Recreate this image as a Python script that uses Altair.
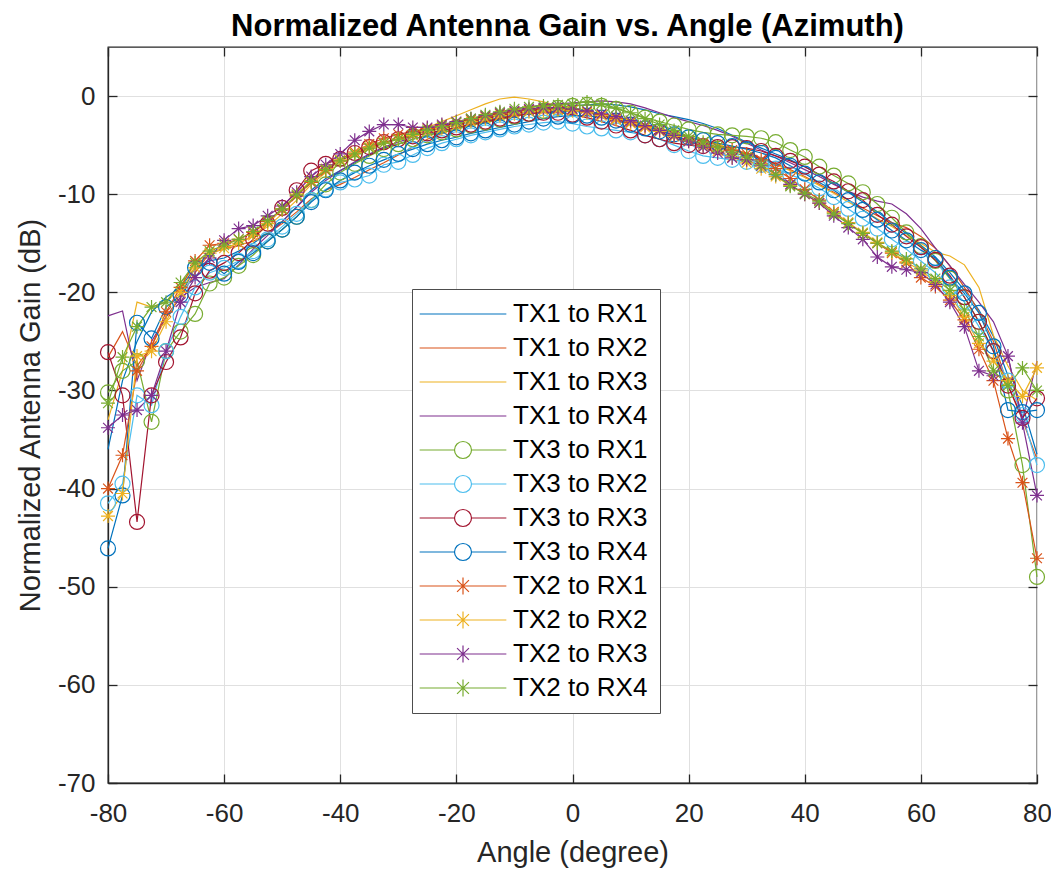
import altair as alt
import pandas as pd

angles = [-80, -77.5, -75, -72.5, -70, -67.5, -65, -62.5, -60, -57.5, -55, -52.5, -50,
          -47.5, -45, -42.5, -40, -37.5, -35, -32.5, -30, -27.5, -25, -22.5, -20, -17.5,
          -15, -12.5, -10, -7.5, -5, -2.5, 0, 2.5, 5, 7.5, 10, 12.5, 15,
          17.5, 20, 22.5, 25, 27.5, 30, 32.5, 35, 37.5, 40, 42.5, 45, 47.5,
          50, 52.5, 55, 57.5, 60, 62.5, 65, 67.5, 70, 72.5, 75, 77.5, 80]

series_names = ["TX1 to RX1", "TX1 to RX2", "TX1 to RX3", "TX1 to RX4",
                "TX3 to RX1", "TX3 to RX2", "TX3 to RX3", "TX3 to RX4",
                "TX2 to RX1", "TX2 to RX2", "TX2 to RX3", "TX2 to RX4"]
series_colors = ["#0072BD", "#D95319", "#EDB120", "#7E2F8E",
                 "#77AC30", "#4DBEEE", "#A2142F", "#0072BD",
                 "#D95319", "#EDB120", "#7E2F8E", "#77AC30"]
series_marker = ["none", "none", "none", "none",
                 "circle", "circle", "circle", "circle",
                 "star", "star", "star", "star"]

tx1_rx1 = [-36, -29, -25, -22, -20.5, -19.5, -17.5, -16.8, -16.5, -15.8, -15.0, -14.0, -12.8,
           -11.3, -9.6, -8.4, -7.6, -6.8, -6.0, -5.3, -4.9, -4.4, -4.0, -3.6, -3.2, -2.8,
           -2.5, -2.2, -1.9, -1.6, -1.3, -1.1, -1.0, -0.9, -0.8, -0.9, -1.1, -1.4, -1.8,
           -2.1, -2.4, -2.8, -3.3, -4.0, -4.7, -5.3, -5.9, -6.5, -7.2, -8.0, -8.9, -9.8,
           -10.8, -11.8, -12.9, -14.0, -15.2, -16.4, -18.0, -19.8, -21.8, -24.5, -28.5, -31.5, -36.5]
tx1_rx2 = [-26.6, -24.0, -27.5, -25.5, -22.5, -20.5, -18.0, -16.0, -15.6, -15.2, -14.8, -14.0, -13.0,
           -11.8, -10.5, -9.6, -9.0, -8.3, -7.5, -6.8, -6.0, -5.2, -4.4, -3.8, -3.3, -2.9,
           -2.6, -2.3, -2.0, -1.8, -1.6, -1.5, -1.5, -1.6, -1.8, -2.1, -2.5, -2.9, -3.3,
           -3.8, -4.2, -4.6, -5.0, -5.4, -5.8, -6.3, -6.9, -7.5, -8.2, -9.0, -9.8, -10.6,
           -11.4, -12.2, -12.9, -13.4, -14.3, -15.5, -17.3, -19.5, -22.0, -25.0, -29.5, -33.0, -37.0]
tx1_rx3 = [-33.0, -28.0, -21.0, -21.5, -21.0, -19.5, -17.0, -16.0, -15.5, -15.0, -14.3, -13.3, -12.0,
           -10.6, -9.0, -7.8, -6.9, -6.1, -5.4, -4.8, -4.3, -3.8, -3.2, -2.6, -2.0, -1.4,
           -0.8, -0.3, -0.1, -0.3, -0.6, -1.0, -1.3, -1.6, -1.9, -2.2, -2.5, -2.9, -3.3,
           -3.7, -4.1, -4.5, -4.9, -5.4, -5.9, -6.4, -7.0, -7.6, -8.3, -9.1, -9.9, -10.8,
           -11.6, -12.5, -13.3, -14.2, -15.0, -15.9, -16.3, -17.2, -19.5, -24.4, -27.5, -30.0, -31.0]
tx1_rx4 = [-22.4, -21.9, -29.0, -25.0, -22.5, -20.5, -19.5, -19.0, -18.6, -17.2, -15.6, -14.2, -12.8,
           -11.3, -9.8, -8.6, -7.6, -6.7, -5.9, -5.2, -4.7, -4.2, -3.7, -3.2, -2.8, -2.4,
           -2.0, -1.6, -1.3, -1.1, -0.9, -0.8, -0.7, -0.6, -0.5, -0.6, -0.8, -1.2, -1.7,
           -2.2, -2.6, -3.0, -3.5, -4.1, -4.8, -5.5, -6.1, -6.8, -7.5, -8.2, -9.0, -9.7,
           -10.3, -10.7, -11.0, -12.0, -13.5, -15.5, -17.3, -19.2, -21.0, -23.0, -26.5, -33.0, -27.0]
tx3_rx1 = [-30.2, -28.0, -27.0, -33.2, -26.0, -24.0, -22.2, -19.1, -18.5, -17.3, -16.2, -14.8, -13.6,
           -12.3, -10.6, -9.0, -7.8, -6.9, -6.1, -5.4, -4.9, -4.4, -4.0, -3.7, -3.4, -3.0,
           -2.7, -2.4, -2.1, -1.8, -1.5, -1.2, -1.0, -0.9, -1.0, -1.3, -1.7, -2.2, -2.6,
           -3.0, -3.4, -3.7, -3.9, -4.0, -4.1, -4.3, -4.7, -5.5, -6.2, -7.2, -8.1, -8.9,
           -9.8, -11.0, -12.4, -13.9, -15.3, -16.8, -18.6, -20.5, -23.0, -26.0, -30.0, -37.6, -49.0]
tx3_rx2 = [-41.5, -39.5, -30.5, -31.5, -26.0, -22.5, -19.5, -18.0, -17.5, -16.8, -15.8, -14.6, -13.3,
           -12.0, -10.6, -9.5, -8.8, -8.5, -8.1, -7.0, -6.7, -6.0, -5.3, -4.8, -4.4, -4.0,
           -3.7, -3.4, -3.1, -2.9, -2.7, -2.6, -2.8, -3.1, -3.3, -3.5, -3.7, -4.0, -4.4,
           -5.0, -5.6, -6.1, -6.3, -6.5, -6.7, -7.0, -7.4, -8.0, -8.6, -9.4, -10.3, -11.5,
           -12.5, -13.5, -14.6, -15.6, -16.8, -18.0, -19.5, -21.0, -23.5, -26.0, -29.0, -32.5, -37.6]
tx3_rx3 = [-26.1, -30.5, -43.4, -30.5, -27.1, -24.6, -20.1, -17.8, -17.0, -16.0, -14.6, -13.0, -11.4,
           -9.6, -7.6, -6.9, -6.4, -5.8, -5.2, -4.7, -4.4, -4.1, -3.8, -3.5, -3.2, -2.9,
           -2.6, -2.3, -2.0, -1.8, -1.7, -1.7, -1.9, -2.2, -2.6, -3.0, -3.5, -4.0, -4.4,
           -4.8, -5.0, -5.1, -5.2, -5.2, -5.3, -5.6, -6.1, -6.6, -7.2, -8.0, -8.7, -9.7,
           -10.6, -12.1, -13.1, -14.3, -15.4, -16.7, -18.3, -20.5, -23.0, -26.0, -29.5, -32.8, -30.8]
tx3_rx4 = [-46.1, -40.7, -23.1, -24.7, -21.5, -20.3, -17.5, -17.0, -18.1, -16.9, -16.0, -14.8, -13.6,
           -12.3, -10.8, -9.6, -8.6, -7.8, -7.1, -6.5, -5.9, -5.4, -4.9, -4.5, -4.2, -3.8,
           -3.5, -3.2, -2.9, -2.6, -2.3, -2.1, -2.0, -2.0, -2.2, -2.5, -2.9, -3.3, -3.6,
           -3.9, -4.2, -4.5, -4.8, -5.1, -5.4, -5.8, -6.3, -7.1, -7.9, -8.8, -9.6, -10.6,
           -11.6, -12.6, -13.7, -14.7, -15.7, -16.5, -18.5, -20.1, -22.1, -25.5, -32.0, -32.2, -32.0]
tx2_rx1 = [-40.0, -36.6, -28.0, -25.5, -22.0, -19.5, -16.8, -15.2, -15.0, -14.6, -13.9, -12.8, -11.6,
           -10.2, -8.8, -7.6, -6.6, -5.7, -4.9, -4.3, -3.9, -3.6, -3.3, -3.0, -2.7, -2.4,
           -2.1, -1.8, -1.6, -1.4, -1.3, -1.3, -1.4, -1.6, -1.9, -2.3, -2.7, -3.1, -3.5,
           -4.0, -4.5, -4.9, -5.2, -5.5, -5.9, -6.5, -7.4, -8.4, -9.5, -10.6, -11.8, -12.9,
           -14.0, -15.0, -16.0, -17.0, -18.5, -19.4, -20.8, -22.8, -25.8, -29.0, -34.9, -39.4, -47.1]
tx2_rx2 = [-42.8, -40.5, -26.5, -26.0, -23.0, -20.0, -17.5, -16.0, -15.5, -15.0, -14.2, -13.0, -11.5,
           -10.0, -8.6, -7.4, -6.5, -5.8, -5.2, -4.8, -4.4, -4.0, -3.6, -3.3, -3.0, -2.6,
           -2.3, -2.0, -1.8, -1.6, -1.5, -1.4, -1.5, -1.7, -2.0, -2.4, -2.8, -3.2, -3.6,
           -4.1, -4.6, -5.1, -5.6, -6.2, -6.8, -7.4, -8.2, -9.1, -10.0, -10.9, -11.9, -12.9,
           -13.9, -14.9, -15.9, -16.9, -17.8, -18.9, -20.3, -22.5, -25.2, -27.0, -29.0, -30.6, -27.7]
tx2_rx3 = [-33.8, -32.5, -32.0, -30.5, -26.0, -21.0, -18.5, -16.5, -14.7, -13.5, -13.2, -12.2, -11.2,
           -9.8, -8.2, -7.0, -5.9, -4.5, -3.6, -2.9, -2.9, -3.2, -3.2, -2.9, -2.6, -2.3,
           -2.0, -1.7, -1.5, -1.3, -1.2, -1.2, -1.3, -1.5, -1.8, -2.1, -2.5, -3.0, -3.5,
           -4.0, -4.6, -5.2, -5.8, -6.3, -6.5, -7.1, -8.0, -9.0, -10.0, -10.9, -12.2, -13.4,
           -14.6, -16.4, -17.4, -17.7, -18.0, -19.2, -21.0, -23.5, -28.0, -28.5, -26.5, -33.3, -40.7]
tx2_rx4 = [-31.3, -26.6, -23.5, -21.5, -21.0, -19.0, -17.0, -15.8, -15.2, -14.6, -13.8, -12.7, -11.5,
           -10.1, -8.7, -7.5, -6.6, -5.9, -5.3, -4.8, -4.4, -3.9, -3.5, -3.1, -2.7, -2.3,
           -1.9, -1.6, -1.3, -1.1, -1.0, -0.9, -0.8, -0.6, -0.8, -1.2, -1.7, -2.3, -2.9,
           -3.5, -4.1, -4.7, -5.2, -5.7, -6.2, -7.0, -8.0, -9.2, -9.9, -10.7, -12.0, -13.0,
           -14.0, -15.0, -15.8, -16.6, -17.6, -18.6, -19.8, -21.8, -24.5, -28.0, -29.5, -27.7, -30.0]

series_values = [tx1_rx1, tx1_rx2, tx1_rx3, tx1_rx4,
                 tx3_rx1, tx3_rx2, tx3_rx3, tx3_rx4,
                 tx2_rx1, tx2_rx2, tx2_rx3, tx2_rx4]

x_ticks = [-80, -60, -40, -20, 0, 20, 40, 60, 80]
y_ticks = [-70, -60, -50, -40, -30, -20, -10, 0]

rows = []
for name, marker, vals in zip(series_names, series_marker, series_values):
    for a, g in zip(angles, vals):
        rows.append({"angle": a, "gain": g, "series": name, "marker": marker})
df = pd.DataFrame(rows)

FONT = "Liberation Sans"
PLOT_W, PLOT_H = 929, 736
STAR = "M0,-1L0,1M-1,0L1,0M-0.7,-0.7L0.7,0.7M-0.7,0.7L0.7,-0.7"
LEG_LINE = "M-5.1,0L5.1,0"
LEG_CIRC = "M-5.1,0L-1,0M1,0L5.1,0M1,0A1,1,0,1,1,-1,0A1,1,0,1,1,1,0"
LEG_STAR = "M-5.1,0L5.1,0M0,-1L0,1M-0.7,-0.7L0.7,0.7M-0.7,0.7L0.7,-0.7"
legend_paths = [{"none": LEG_LINE, "circle": LEG_CIRC, "star": LEG_STAR}[m] for m in series_marker]

x_scale = alt.Scale(domain=[-80, 80], nice=False, zero=False)
y_scale = alt.Scale(domain=[-70, 5], nice=False, zero=False)
hyphen = "datum.value < 0 ? '-' + abs(datum.value) : '' + datum.value"

# main axes (labels, titles, grid)
x_main = alt.X("angle:Q", scale=x_scale,
               axis=alt.Axis(values=x_ticks, title="Angle (degree)", labelPadding=17,
                             titlePadding=12, labelExpr=hyphen, orient="bottom",
                             labelFlush=False, labelOverlap=False))
y_main = alt.Y("gain:Q", scale=y_scale,
               axis=alt.Axis(values=y_ticks, title="Normalized Antenna Gain (dB)",
                             labelPadding=13, titlePadding=12, labelExpr=hyphen, orient="left",
                             labelFlush=False, labelOverlap=False))


def tick_axis(values, orient, offset):
    return alt.Axis(values=values, orient=orient, offset=offset, labels=False, domain=False,
                    grid=False, ticks=True, tickSize=9, tickColor="#262626", tickWidth=1.3,
                    title=None)


# inward ticks: an axis placed on the opposite edge, pointing into the plot
x_in_bottom = alt.X("angle:Q", scale=x_scale, axis=tick_axis(x_ticks, "top", -PLOT_H))
y_in_left = alt.Y("gain:Q", scale=y_scale, axis=tick_axis(y_ticks, "right", -PLOT_W))
x_in_top = alt.X("angle:Q", scale=x_scale, axis=tick_axis(x_ticks, "bottom", -PLOT_H))
y_in_right = alt.Y("gain:Q", scale=y_scale, axis=tick_axis(y_ticks, "left", -PLOT_W))
x_plain = alt.X("angle:Q", scale=x_scale, axis=None)
y_plain = alt.Y("gain:Q", scale=y_scale, axis=None)

color_scale = alt.Scale(domain=series_names, range=series_colors)

base = alt.Chart(df)

leg = alt.Legend(title=None, orient="none", legendX=304, legendY=242,
                 fillColor="white", strokeColor="#4d4d4d", padding=12,
                 symbolSize=289, symbolOffset=26, symbolStrokeWidth=1.2, symbolOpacity=1,
                 labelFont=FONT, labelFontSize=26, labelColor="black",
                 labelOffset=37, rowPadding=8, labelLimit=300)

# invisible layer that only carries the legend (line + marker symbols)
legend_layer = base.mark_point(opacity=0, filled=False).encode(
    x=x_main, y=y_main,
    color=alt.Color("series:N", scale=color_scale, legend=leg, sort=series_names),
    shape=alt.Shape("series:N", scale=alt.Scale(domain=series_names, range=legend_paths),
                    legend=leg, sort=series_names),
)

lines = base.mark_line(strokeWidth=1.2, clip=False).encode(
    x=x_in_bottom, y=y_in_left,
    color=alt.Color("series:N", scale=color_scale, legend=None),
)

circles = base.transform_filter(alt.datum.marker == "circle").mark_point(
    shape="circle", size=225, filled=False, strokeWidth=1.2, opacity=1).encode(
    x=x_in_top, y=y_in_right,
    color=alt.Color("series:N", scale=color_scale, legend=None),
)

stars = base.transform_filter(alt.datum.marker == "star").mark_point(
    shape=STAR, size=196, filled=False, strokeWidth=1.2, opacity=1).encode(
    x=x_plain, y=y_plain,
    color=alt.Color("series:N", scale=color_scale, legend=None),
)

chart = alt.layer(legend_layer, lines, circles, stars).resolve_axis(
    x="independent", y="independent"
).properties(
    width=PLOT_W, height=PLOT_H,
    title=alt.TitleParams("Normalized Antenna Gain vs. Angle (Azimuth)",
                          font=FONT, fontSize=31, fontWeight="bold", color="black",
                          anchor="middle", offset=3, dx=-5),
    autosize=alt.AutoSizeParams(type="none"),
    padding={"left": 100, "top": 39, "right": 14, "bottom": 86},
).configure_axis(
    labelFont=FONT, labelFontSize=26, labelColor="#262626",
    titleFont=FONT, titleFontSize=29, titleFontWeight="normal", titleColor="#262626",
    grid=True, gridColor="#e0e0e0", gridWidth=1,
    domainColor="#262626", domainWidth=1.3, ticks=False,
).configure_view(
    stroke="#262626", strokeWidth=1.3,
)

chart.save("out.html", embed_options={"renderer": "svg", "actions": False})
